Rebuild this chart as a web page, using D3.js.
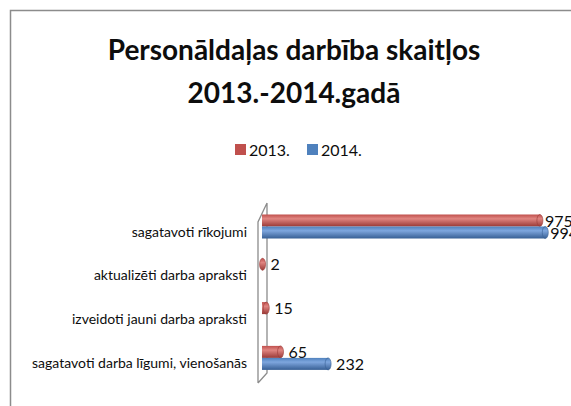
<!DOCTYPE html>
<html>
<head>
<meta charset="utf-8">
<script src="https://d3js.org/d3.v7.min.js"></script>
<style>
body { margin: 0; background: #fff; }
text { font-family: Lato, "Liberation Sans", sans-serif; fill: #0d0d0d; }
</style>
</head>
<body>
<div id="container"></div>
<script>
var width = 571, height = 406;

var categories = ["sagatavoti rīkojumi", "aktualizēti darba apraksti",
  "izveidoti jauni darba apraksti", "sagatavoti darba līgumi, vienošanās"];
var v2013 = [975, 2, 15, 65];
var v2014 = [994, null, null, 232];
var seriesNames = ["2013.", "2014."];
var titleLines = ["Personāldaļas darbība skaitļos", "2013.-2014.gadā"];

var colors = [
  {dark: "#9a3a37", mid: "#e08581", base: "#c0504d"},
  {dark: "#375f94", mid: "#7ea6de", base: "#4f81bd"}
];

var svg = d3.select("#container").append("svg")
  .attr("width", width).attr("height", height);

var defs = svg.append("defs");
colors.forEach(function(c, i) {
  var g = defs.append("linearGradient").attr("id", "grad" + i)
    .attr("x1", 0).attr("y1", 0).attr("x2", 0).attr("y2", 1);
  g.append("stop").attr("offset", "0%").attr("stop-color", c.base);
  g.append("stop").attr("offset", "35%").attr("stop-color", c.mid);
  g.append("stop").attr("offset", "100%").attr("stop-color", c.dark);
});

// chart border (right and bottom edges fall outside the window)
svg.append("rect").attr("x", 10.5).attr("y", 10.5)
  .attr("width", 600).attr("height", 420)
  .attr("fill", "none").attr("stroke", "#8c8c8c").attr("stroke-width", 1.5);

// title
svg.selectAll(".title").data(titleLines).enter().append("text")
  .attr("class", "title")
  .attr("x", 294).attr("y", function(d, i) { return 60 + i * 43; })
  .attr("text-anchor", "middle")
  .style("font-size", "28px").style("font-weight", "bold")
  .text(function(d) { return d; });

// legend
var legend = svg.selectAll(".leg").data(seriesNames).enter().append("g")
  .attr("class", "leg")
  .attr("transform", function(d, i) { return "translate(" + (235 + i * 72) + ",144)"; });
legend.append("rect").attr("width", 11).attr("height", 11)
  .attr("fill", function(d, i) { return colors[i].base; });
legend.append("text").attr("x", 14).attr("y", 12)
  .style("font-size", "16px").text(function(d) { return d; });

var x = d3.scaleLinear().domain([0, 1000]).range([262, 547]);
var y = d3.scaleBand().domain(categories).range([204.6, 379.8]);
var barH = 12;

// 3d back wall
var wall = d3.path();
wall.moveTo(258, 383); wall.lineTo(258, 222); wall.lineTo(267, 203);
wall.moveTo(267, 203); wall.lineTo(267, 373); wall.lineTo(258, 383);
svg.append("path").attr("d", wall.toString())
  .attr("fill", "none").attr("stroke", "#8c8c8c").attr("stroke-width", 1.3);

// category labels
svg.selectAll(".cat").data(categories).enter().append("text")
  .attr("class", "cat")
  .attr("x", 247).attr("y", function(d) { return y(d) + y.bandwidth() / 2 + 10; })
  .attr("text-anchor", "end")
  .style("font-size", "14px")
  .text(function(d) { return d; });

var series = [v2013, v2014];
series.forEach(function(vals, s) {
  var pts = vals.map(function(v, i) { return {v: v, cat: categories[i]}; })
    .filter(function(d) { return d.v != null; });
  var g = svg.append("g");
  var top = function(d) { return y(d.cat) + y.bandwidth() / 2 - barH + s * barH; };
  g.selectAll("rect").data(pts).enter().append("rect")
    .attr("x", x(0)).attr("y", top)
    .attr("width", function(d) { return Math.max(0, x(d.v) - x(0)); })
    .attr("height", barH)
    .attr("fill", "url(#grad" + s + ")");
  g.selectAll("ellipse").data(pts).enter().append("ellipse")
    .attr("cx", function(d) { return x(d.v); })
    .attr("cy", function(d) { return top(d) + barH / 2; })
    .attr("rx", 3).attr("ry", barH / 2)
    .attr("fill", "url(#grad" + s + ")")
    .attr("stroke", colors[s].dark).attr("stroke-width", 0.6);
  g.selectAll("text").data(pts).enter().append("text")
    .attr("x", function(d) { return x(d.v) + (d.v > 900 ? 5 : 8); })
    .attr("y", function(d) { return top(d) + barH / 2 + 6; })
    .style("font-size", "16px")
    .text(function(d) { return d.v; });
});
</script>
</body>
</html>
